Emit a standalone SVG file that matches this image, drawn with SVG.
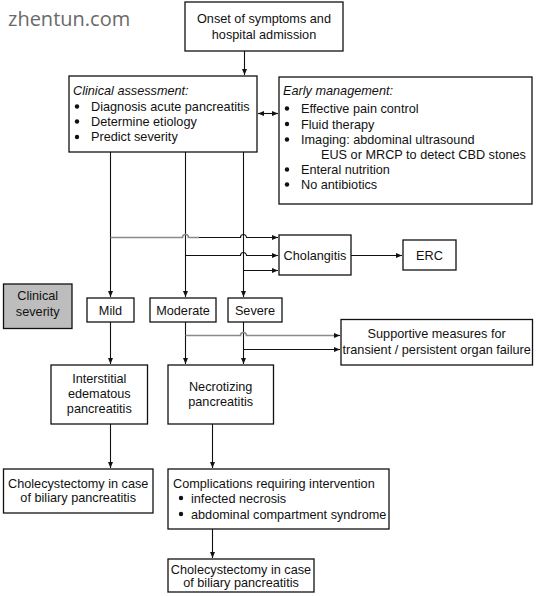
<svg xmlns="http://www.w3.org/2000/svg" width="536" height="596" viewBox="0 0 536 596">
<defs>
<marker id="ah" markerWidth="7" markerHeight="6" refX="6" refY="2.5" orient="auto" markerUnits="userSpaceOnUse">
<path d="M0,0 L6,2.5 L0,5 z" fill="#111"/>
</marker>
<marker id="ahs" markerWidth="7" markerHeight="6" refX="0" refY="2.5" orient="auto" markerUnits="userSpaceOnUse">
<path d="M6,0 L0,2.5 L6,5 z" fill="#111"/>
</marker>
<style>
.box{fill:#fff;stroke:#111;stroke-width:1.3}
.gbox{fill:#bdbdbd;stroke:#111;stroke-width:1.3}
text{font-family:"Liberation Sans",Arial,sans-serif;font-size:12.7px;fill:#111}
.c{text-anchor:middle}
.i{font-style:italic}
.ln{fill:none;stroke:#111;stroke-width:1.1}
.gl{fill:none;stroke:#8a8a8a;stroke-width:1.6}
.wm{font-family:"Open Sans",sans-serif;font-size:20px;fill:#6a6a6a}
</style>
</defs>
<rect width="536" height="596" fill="#fff"/>
<text class="wm" x="8" y="26">zhentun.com</text>

<g id="connectors">
<path class="ln" d="M244.5,51 V75" marker-end="url(#ah)"/>
<path class="ln" d="M258,113.5 H278" marker-start="url(#ahs)" marker-end="url(#ah)"/>
<path class="ln" d="M110.5,152 V297" marker-end="url(#ah)"/>
<path class="ln" d="M185.5,152 V297" marker-end="url(#ah)"/>
<path class="ln" d="M243.5,152 V297" marker-end="url(#ah)"/>
<path class="gl" d="M110.5,237.5 H182.5 a3,3 0 0 1 6,0 H199"/>
<path class="ln" d="M199,237.5 H240.5 a3,3 0 0 1 6,0 H278" marker-end="url(#ah)"/>
<path class="ln" d="M185.5,255.5 H240.5 a3,3 0 0 1 6,0 H278" marker-end="url(#ah)"/>
<path class="ln" d="M243.5,270.5 H278" marker-end="url(#ah)"/>
<path class="ln" d="M351,255.5 H402" marker-end="url(#ah)"/>
<path class="ln" d="M110.5,322 V364" marker-end="url(#ah)"/>
<path class="ln" d="M185.5,322 V364" marker-end="url(#ah)"/>
<path class="ln" d="M243.5,322 V364" marker-end="url(#ah)"/>
<path class="gl" d="M185.5,335.5 H240.5 a3,3 0 0 1 6,0 H336"/>
<path class="ln" d="M336,335.5 H340" marker-end="url(#ah)"/>
<path class="ln" d="M243.5,349.5 H340" marker-end="url(#ah)"/>
<path class="ln" d="M110.5,424 V468" marker-end="url(#ah)"/>
<path class="ln" d="M212.5,424 V468" marker-end="url(#ah)"/>
<path class="ln" d="M212.5,529 V558" marker-end="url(#ah)"/>
</g>

<g id="onset">
<rect class="box" x="185" y="2" width="158" height="49"/>
<text class="c" x="264" y="23">Onset of symptoms and</text>
<text class="c" x="264" y="39">hospital admission</text>
</g>

<g id="clinical-assessment">
<rect class="box" x="69" y="76" width="188" height="76"/>
<text class="i" x="73" y="95">Clinical assessment:</text>
<circle cx="77" cy="106.5" r="2.2" fill="#111"/>
<text x="91" y="111">Diagnosis acute pancreatitis</text>
<circle cx="77" cy="121.5" r="2.2" fill="#111"/>
<text x="91" y="126">Determine etiology</text>
<circle cx="77" cy="137" r="2.2" fill="#111"/>
<text x="91" y="141">Predict severity</text>
</g>

<g id="early-management">
<rect class="box" x="279" y="77" width="253" height="127"/>
<text class="i" x="283" y="95">Early management:</text>
<circle cx="287" cy="108.5" r="2.2" fill="#111"/>
<text x="301" y="113">Effective pain control</text>
<circle cx="287" cy="124" r="2.2" fill="#111"/>
<text x="301" y="128.5">Fluid therapy</text>
<circle cx="287" cy="139.5" r="2.2" fill="#111"/>
<text x="301" y="144">Imaging: abdominal ultrasound</text>
<text x="321" y="159">EUS or MRCP to detect CBD stones</text>
<circle cx="287" cy="169.5" r="2.2" fill="#111"/>
<text x="301" y="174">Enteral nutrition</text>
<circle cx="287" cy="184.5" r="2.2" fill="#111"/>
<text x="301" y="189">No antibiotics</text>
</g>

<g id="cholangitis">
<rect class="box" x="279" y="235" width="72" height="40"/>
<text class="c" x="315" y="260">Cholangitis</text>
</g>

<g id="erc">
<rect class="box" x="403" y="240" width="53" height="30"/>
<text class="c" x="429.5" y="259.5">ERC</text>
</g>

<g id="clinical-severity">
<rect class="gbox" x="3.5" y="284" width="68.5" height="44.5"/>
<text class="c" x="37.7" y="300">Clinical</text>
<text class="c" x="37.7" y="316">severity</text>
</g>

<g id="mild">
<rect class="box" x="87" y="298" width="47" height="24"/>
<text class="c" x="110.5" y="314.5">Mild</text>
</g>

<g id="moderate">
<rect class="box" x="150" y="298" width="66" height="24"/>
<text class="c" x="183" y="314.5">Moderate</text>
</g>

<g id="severe">
<rect class="box" x="228" y="298" width="54" height="24"/>
<text class="c" x="255" y="314.5">Severe</text>
</g>

<g id="supportive">
<rect class="box" x="341" y="319.5" width="191.5" height="45.5"/>
<text class="c" x="436.7" y="338">Supportive measures for</text>
<text class="c" x="436.7" y="354">transient / persistent organ failure</text>
</g>

<g id="interstitial">
<rect class="box" x="51" y="365" width="96.5" height="59"/>
<text class="c" x="99.3" y="382.5">Interstitial</text>
<text class="c" x="99.3" y="397.5">edematous</text>
<text class="c" x="99.3" y="412.5">pancreatitis</text>
</g>

<g id="necrotizing">
<rect class="box" x="168" y="365" width="105.5" height="59"/>
<text class="c" x="220.7" y="390.5">Necrotizing</text>
<text class="c" x="220.7" y="405.5">pancreatitis</text>
</g>

<g id="cholecystectomy-mild">
<rect class="box" x="3.5" y="469" width="149.5" height="44"/>
<text class="c" x="78.2" y="487.5">Cholecystectomy in case</text>
<text class="c" x="78.2" y="501.5">of biliary pancreatitis</text>
</g>

<g id="complications">
<rect class="box" x="168" y="469" width="221" height="60"/>
<text x="173" y="487.5">Complications requiring intervention</text>
<circle cx="181" cy="498" r="2.2" fill="#111"/>
<text x="191" y="502.5">infected necrosis</text>
<circle cx="181" cy="514" r="2.2" fill="#111"/>
<text x="191" y="518.5">abdominal compartment syndrome</text>
</g>

<g id="cholecystectomy-severe">
<rect class="box" x="168" y="559" width="146" height="33"/>
<text class="c" x="241" y="573.5">Cholecystectomy in case</text>
<text class="c" x="241" y="587">of biliary pancreatitis</text>
</g>
</svg>
